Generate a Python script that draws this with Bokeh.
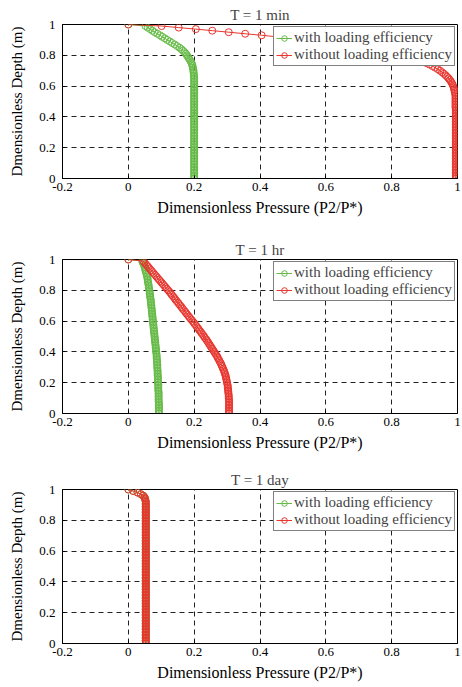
from bokeh.plotting import figure
from bokeh.layouts import column
from bokeh.models import FixedTicker, Legend, LegendItem, Range1d
from bokeh.embed import file_html
from bokeh.resources import INLINE

# ---------------- data ----------------
depth = [1.00, 0.99, 0.98, 0.97, 0.96, 0.95, 0.94, 0.93, 0.92, 0.91,
         0.90, 0.89, 0.88, 0.87, 0.86, 0.85, 0.84, 0.83, 0.82, 0.81,
         0.80, 0.79, 0.78, 0.77, 0.76, 0.75, 0.74, 0.73, 0.72, 0.71,
         0.70, 0.69, 0.68, 0.67, 0.66, 0.65, 0.64, 0.63, 0.62, 0.61,
         0.60, 0.59, 0.58, 0.57, 0.56, 0.55, 0.54, 0.53, 0.52, 0.51,
         0.50, 0.49, 0.48, 0.47, 0.46, 0.45, 0.44, 0.43, 0.42, 0.41,
         0.40, 0.39, 0.38, 0.37, 0.36, 0.35, 0.34, 0.33, 0.32, 0.31,
         0.30, 0.29, 0.28, 0.27, 0.26, 0.25, 0.24, 0.23, 0.22, 0.21,
         0.20, 0.19, 0.18, 0.17, 0.16, 0.15, 0.14, 0.13, 0.12, 0.11,
         0.10, 0.09, 0.08, 0.07, 0.06, 0.05, 0.04, 0.03, 0.02, 0.01,
         0.00]

# T = 1 min
min_with = [0.000, 0.052, 0.059, 0.066, 0.073, 0.080, 0.088, 0.096, 0.103, 0.111,
            0.118, 0.126, 0.133, 0.141, 0.148, 0.155, 0.161, 0.166, 0.171, 0.175,
            0.178, 0.181, 0.184, 0.187, 0.190, 0.192, 0.194, 0.195, 0.196, 0.197,
            0.198, 0.198, 0.199, 0.199, 0.200, 0.200, 0.200, 0.200, 0.200, 0.200,
            0.200, 0.200, 0.200, 0.200, 0.200, 0.200, 0.200, 0.200, 0.200, 0.200,
            0.200, 0.200, 0.200, 0.200, 0.200, 0.200, 0.200, 0.200, 0.200, 0.200,
            0.200, 0.200, 0.200, 0.200, 0.200, 0.200, 0.200, 0.200, 0.200, 0.200,
            0.200, 0.200, 0.200, 0.200, 0.200, 0.200, 0.200, 0.200, 0.200, 0.200,
            0.200, 0.200, 0.200, 0.200, 0.200, 0.200, 0.200, 0.200, 0.200, 0.200,
            0.200, 0.200, 0.200, 0.200, 0.200, 0.200, 0.200, 0.200, 0.200, 0.200,
            0.200]
min_without = [0.000, 0.101, 0.153, 0.205, 0.255, 0.305, 0.355, 0.405, 0.452, 0.498,
               0.542, 0.584, 0.622, 0.658, 0.692, 0.722, 0.750, 0.776, 0.799, 0.820,
               0.838, 0.854, 0.869, 0.882, 0.894, 0.905, 0.915, 0.924, 0.932, 0.940,
               0.947, 0.953, 0.959, 0.964, 0.969, 0.973, 0.977, 0.980, 0.983, 0.985,
               0.987, 0.989, 0.990, 0.991, 0.992, 0.993, 0.994, 0.994, 0.994, 0.994,
               0.994, 0.994, 0.994, 0.994, 0.994, 0.995, 0.995, 0.995, 0.995, 0.995,
               0.995, 0.995, 0.995, 0.995, 0.995, 0.995, 0.995, 0.995, 0.995, 0.995,
               0.995, 0.995, 0.995, 0.995, 0.995, 0.995, 0.995, 0.995, 0.995, 0.995,
               0.995, 0.995, 0.995, 0.995, 0.995, 0.995, 0.995, 0.995, 0.995, 0.995,
               0.995, 0.995, 0.995, 0.995, 0.995, 0.995, 0.995, 0.995, 0.995, 0.995,
               0.995]

# T = 1 hr
hr_with = [0.000, 0.042, 0.044, 0.046, 0.048, 0.050, 0.051, 0.052, 0.053, 0.055,
           0.056, 0.057, 0.058, 0.059, 0.059, 0.060, 0.061, 0.062, 0.062, 0.063,
           0.064, 0.065, 0.065, 0.066, 0.066, 0.067, 0.068, 0.068, 0.069, 0.069,
           0.070, 0.070, 0.071, 0.071, 0.072, 0.072, 0.073, 0.073, 0.074, 0.074,
           0.075, 0.075, 0.076, 0.076, 0.077, 0.077, 0.078, 0.078, 0.079, 0.079,
           0.080, 0.080, 0.081, 0.081, 0.082, 0.082, 0.083, 0.083, 0.084, 0.084,
           0.085, 0.085, 0.086, 0.086, 0.086, 0.087, 0.087, 0.087, 0.088, 0.088,
           0.088, 0.088, 0.089, 0.089, 0.089, 0.089, 0.090, 0.090, 0.090, 0.090,
           0.090, 0.091, 0.091, 0.091, 0.091, 0.091, 0.092, 0.092, 0.092, 0.092,
           0.092, 0.092, 0.092, 0.093, 0.093, 0.093, 0.093, 0.093, 0.093, 0.093,
           0.093]
hr_without = [0.000, 0.045, 0.049, 0.053, 0.057, 0.061, 0.065, 0.069, 0.073, 0.077,
              0.081, 0.085, 0.089, 0.093, 0.097, 0.101, 0.105, 0.109, 0.113, 0.117,
              0.121, 0.125, 0.129, 0.132, 0.136, 0.140, 0.143, 0.147, 0.151, 0.154,
              0.158, 0.162, 0.165, 0.169, 0.173, 0.176, 0.180, 0.184, 0.187, 0.191,
              0.195, 0.199, 0.202, 0.206, 0.209, 0.213, 0.216, 0.220, 0.223, 0.227,
              0.230, 0.233, 0.237, 0.240, 0.243, 0.246, 0.249, 0.252, 0.255, 0.258,
              0.261, 0.264, 0.267, 0.270, 0.272, 0.275, 0.277, 0.280, 0.282, 0.284,
              0.286, 0.288, 0.290, 0.292, 0.293, 0.295, 0.296, 0.297, 0.298, 0.299,
              0.300, 0.301, 0.302, 0.302, 0.303, 0.303, 0.304, 0.304, 0.305, 0.305,
              0.305, 0.306, 0.306, 0.306, 0.306, 0.306, 0.306, 0.306, 0.306, 0.306,
              0.306]

# T = 1 day (the two curves coincide)
day_with = [0.000, 0.015, 0.028, 0.038, 0.045, 0.049, 0.051, 0.052, 0.053, 0.053,
            0.053, 0.053, 0.053, 0.053, 0.053, 0.053, 0.053, 0.053, 0.053, 0.053,
            0.053, 0.053, 0.053, 0.053, 0.053, 0.053, 0.053, 0.053, 0.053, 0.053,
            0.053, 0.053, 0.053, 0.053, 0.053, 0.053, 0.053, 0.053, 0.053, 0.053,
            0.053, 0.053, 0.053, 0.053, 0.053, 0.053, 0.053, 0.053, 0.053, 0.053,
            0.053, 0.053, 0.053, 0.053, 0.053, 0.053, 0.053, 0.053, 0.053, 0.053,
            0.053, 0.053, 0.053, 0.053, 0.053, 0.053, 0.053, 0.053, 0.053, 0.053,
            0.053, 0.053, 0.053, 0.053, 0.053, 0.053, 0.053, 0.053, 0.053, 0.053,
            0.053, 0.053, 0.053, 0.053, 0.053, 0.053, 0.053, 0.053, 0.053, 0.053,
            0.053, 0.053, 0.053, 0.053, 0.053, 0.053, 0.053, 0.053, 0.053, 0.053,
            0.053]
day_without = [0.000, 0.015, 0.028, 0.038, 0.045, 0.049, 0.051, 0.052, 0.053, 0.053,
               0.053, 0.053, 0.053, 0.053, 0.053, 0.053, 0.053, 0.053, 0.053, 0.053,
               0.053, 0.053, 0.053, 0.053, 0.053, 0.053, 0.053, 0.053, 0.053, 0.053,
               0.053, 0.053, 0.053, 0.053, 0.053, 0.053, 0.053, 0.053, 0.053, 0.053,
               0.053, 0.053, 0.053, 0.053, 0.053, 0.053, 0.053, 0.053, 0.053, 0.053,
               0.053, 0.053, 0.053, 0.053, 0.053, 0.053, 0.053, 0.053, 0.053, 0.053,
               0.053, 0.053, 0.053, 0.053, 0.053, 0.053, 0.053, 0.053, 0.053, 0.053,
               0.053, 0.053, 0.053, 0.053, 0.053, 0.053, 0.053, 0.053, 0.053, 0.053,
               0.053, 0.053, 0.053, 0.053, 0.053, 0.053, 0.053, 0.053, 0.053, 0.053,
               0.053, 0.053, 0.053, 0.053, 0.053, 0.053, 0.053, 0.053, 0.053, 0.053,
               0.053]

titles = ["T = 1 min", "T = 1 hr", "T = 1 day"]
series_with = [min_with, hr_with, day_with]
series_without = [min_without, hr_without, day_without]
labels = ["with loading efficiency", "without loading efficiency"]
x_ticks = [-0.2, 0, 0.2, 0.4, 0.6, 0.8, 1]
x_tick_labels = ["-0.2", "0", "0.2", "0.4", "0.6", "0.8", "1"]
y_ticks = [0, 0.2, 0.4, 0.6, 0.8, 1]
y_tick_labels = ["0", "0.2", "0.4", "0.6", "0.8", "1"]
x_label = "Dimensionless Pressure (P2/P*)"
y_label = "Dmensionless Depth (m)"

# ---------------- styling ----------------
FONT = "Liberation Serif"
GREEN = "#66bb47"
RED = "#e8352d"
heights = [237, 230, 220]
tops = [24, 22, 22]
bottoms = [59, 54, 44]


def make_panel(title, xw, xwo, h, mt, mb):
    p = figure(width=462, height=h, output_backend="svg", toolbar_location=None,
               x_range=Range1d(-0.2, 1), y_range=Range1d(0, 1),
               min_border_left=62, min_border_right=5, min_border_top=mt,
               min_border_bottom=mb)
    p.title.text = title
    p.title.align = "center"
    p.title.text_font = FONT
    p.title.text_font_size = "15px"
    p.title.text_font_style = "normal"
    p.title.standoff = 4
    p.title.offset = 0

    p.outline_line_color = "black"
    p.outline_line_width = 1
    p.outline_line_alpha = 1
    p.background_fill_color = "white"
    p.border_fill_color = "white"

    for ax in (p.xaxis[0], p.yaxis[0]):
        ax.axis_line_color = "black"
        ax.major_tick_in = 3
        ax.major_tick_out = 0
        ax.major_tick_line_color = "black"
        ax.minor_tick_line_color = None
        ax.major_label_text_font = FONT
        ax.major_label_text_font_size = "13px"
        ax.major_label_text_color = "black"
        ax.axis_label_text_font = FONT
        ax.axis_label_text_font_style = "normal"
        ax.axis_label_text_color = "black"
    p.xaxis.axis_label_text_font_size = "16px"
    p.yaxis.axis_label_text_font_size = "15px"

    p.xaxis.ticker = FixedTicker(ticks=x_ticks)
    p.xaxis.major_label_overrides = {t: s for t, s in zip(x_ticks, x_tick_labels)}
    p.yaxis.ticker = FixedTicker(ticks=y_ticks)
    p.yaxis.major_label_overrides = {t: s for t, s in zip(y_ticks, y_tick_labels)}
    p.xaxis.axis_label = x_label
    p.yaxis.axis_label = y_label
    p.xaxis.major_label_standoff = 4
    p.yaxis.major_label_standoff = 7
    p.xaxis.axis_label_standoff = 5
    p.yaxis.axis_label_standoff = 11

    for g in (p.xgrid[0], p.ygrid[0]):
        g.grid_line_color = "#222222"
        g.grid_line_dash = "5 4"
        g.grid_line_width = 1

    lw = p.line(xw, depth, line_color=GREEN, line_width=1)
    sw = p.scatter(xw, depth, marker="circle", size=7, fill_color=None,
                   line_color=GREEN, line_width=1)
    lr = p.line(xwo, depth, line_color=RED, line_width=1)
    sr = p.scatter(xwo, depth, marker="circle", size=7, fill_color=None,
                   line_color=RED, line_width=1)

    legend = Legend(items=[LegendItem(label=labels[0], renderers=[lw, sw]),
                           LegendItem(label=labels[1], renderers=[lr, sr])],
                    location="top_right", margin=2, padding=2, spacing=0,
                    label_text_font=FONT, label_text_font_size="15px",
                    label_height=14, glyph_height=14, glyph_width=16,
                    label_standoff=2,
                    border_line_color="black", border_line_width=1,
                    background_fill_color="white", background_fill_alpha=1)
    p.add_layout(legend, "center")
    return p


panels = [make_panel(titles[i], series_with[i], series_without[i],
                     heights[i], tops[i], bottoms[i]) for i in range(3)]
layout = column(*panels, spacing=0)

open("out.html", "w").write(file_html(layout, INLINE))
